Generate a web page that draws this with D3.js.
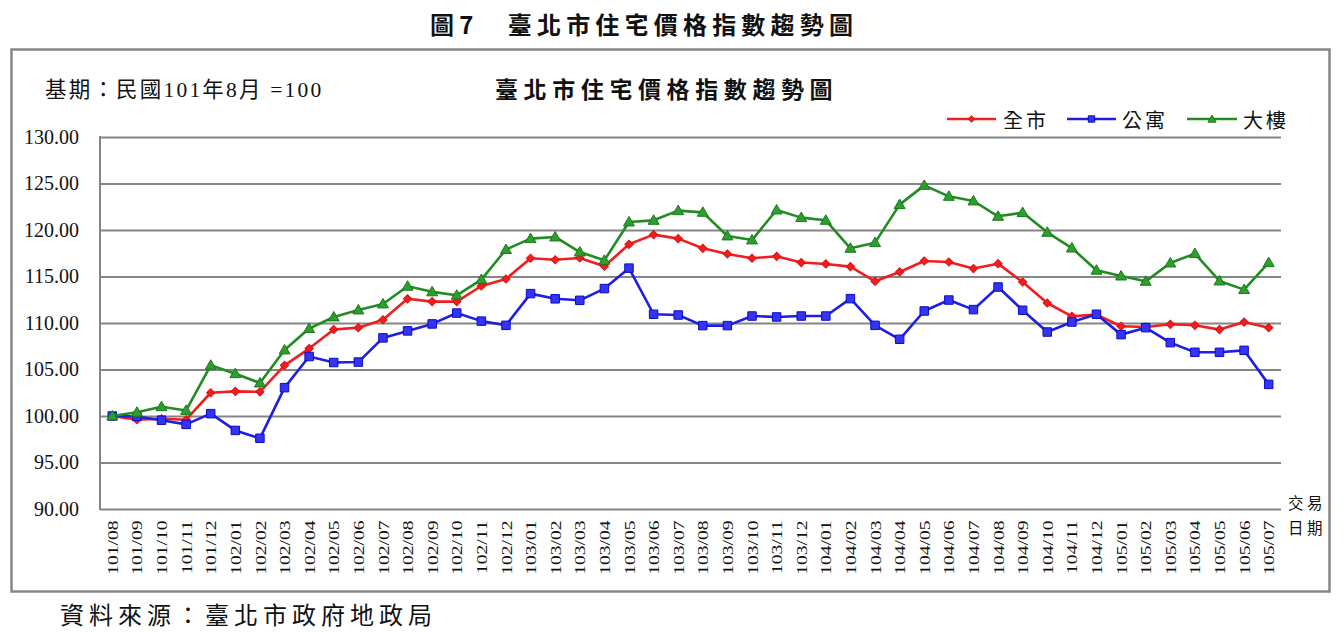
<!DOCTYPE html>
<html><head><meta charset="utf-8">
<script src="https://cdn.jsdelivr.net/npm/d3@7"></script>
<style>
html,body{margin:0;padding:0;background:#fff;}
svg{display:block;}
</style>
</head><body>
<svg id="chart" width="1344" height="632"></svg>
<script>
const categories = ["101/08","101/09","101/10","101/11","101/12",
 "102/01","102/02","102/03","102/04","102/05","102/06","102/07","102/08","102/09","102/10","102/11","102/12",
 "103/01","103/02","103/03","103/04","103/05","103/06","103/07","103/08","103/09","103/10","103/11","103/12",
 "104/01","104/02","104/03","104/04","104/05","104/06","104/07","104/08","104/09","104/10","104/11","104/12",
 "105/01","105/02","105/03","105/04","105/05","105/06","105/07"];
const cityValues = [100.00,99.60,99.70,99.60,102.50,102.65,102.60,105.45,107.25,109.30,109.50,110.35,112.60,112.30,112.30,113.98,114.73,
 116.96,116.80,116.99,116.10,118.46,119.50,119.07,118.03,117.42,116.96,117.17,116.50,
 116.35,116.06,114.48,115.49,116.67,116.56,115.85,116.38,114.41,112.15,110.72,110.90,
 109.65,109.57,109.86,109.75,109.29,110.10,109.50];
const apartmentValues = [100.00,99.95,99.55,99.10,100.25,98.45,97.60,103.05,106.40,105.75,105.80,108.40,109.15,109.90,111.07,110.20,109.75,
 113.16,112.60,112.44,113.70,115.90,110.94,110.86,109.72,109.72,110.75,110.65,110.75,
 110.75,112.62,109.75,108.25,111.29,112.47,111.44,113.87,111.37,109.03,110.11,110.94,
 108.75,109.50,107.89,106.85,106.85,107.06,103.40];
const buildingValues = [100.00,100.40,101.00,100.60,105.45,104.55,103.55,107.10,109.40,110.65,111.40,112.05,113.95,113.35,112.98,114.67,117.90,
 119.07,119.25,117.63,116.74,120.86,121.04,122.08,121.90,119.36,118.93,122.15,121.33,
 121.04,118.03,118.64,122.73,124.80,123.62,123.12,121.47,121.87,119.75,118.06,115.67,
 115.05,114.48,116.45,117.46,114.52,113.59,116.49];
const seriesNames = ["全市","公寓","大樓"];
const yTicks = [90,95,100,105,110,115,120,125,130];

(function(){
const svg = d3.select("#chart");
const serif = "'Liberation Serif','Noto Sans CJK TC',serif";
const cjk = "'Noto Sans CJK TC','Liberation Serif',sans-serif";
const gridColor = "#858585";

svg.append("rect").attr("width",1344).attr("height",632).attr("fill","#fff");

// top caption
svg.append("text").attr("x",430).attr("y",23)
  .attr("dominant-baseline","central").attr("font-family",cjk).attr("font-weight",700)
  .attr("font-size",24).attr("letter-spacing",5.2).attr("fill","#111")
  .text("圖7　臺北市住宅價格指數趨勢圖");

// outer frame
svg.append("rect").attr("x",11.5).attr("y",49.5).attr("width",1318).attr("height",542)
  .attr("fill","none").attr("stroke","#868686").attr("stroke-width",2.5);

// inner title
svg.append("text").attr("x",495).attr("y",88)
  .attr("dominant-baseline","central").attr("font-family",cjk).attr("font-weight",700)
  .attr("font-size",23).attr("letter-spacing",5.6).attr("fill","#111")
  .text("臺北市住宅價格指數趨勢圖");

// base period note
svg.append("text").attr("x",45).attr("y",90).attr("dominant-baseline","central")
  .attr("font-family",serif).attr("font-size",21.5).attr("letter-spacing",2.2).attr("fill","#111")
  .text("基期：民國101年8月 =100");

// source
svg.append("text").attr("x",60).attr("y",613).attr("dominant-baseline","central")
  .attr("font-family",cjk).attr("font-size",24).attr("letter-spacing",5).attr("fill","#111")
  .text("資料來源：臺北市政府地政局");

const pL = 100, pR = 1281, pT = 137, pB = 509;
const x = d3.scalePoint().domain(categories).range([pL,pR]).padding(0.5);
const y = d3.scaleLinear().domain([90,130]).range([pB,pT]);

// y axis with gridlines
const yAxis = d3.axisLeft(y).tickValues(yTicks).tickFormat(d3.format(".2f"))
  .tickSize(-(pR-pL)).tickPadding(21);
const gy = svg.append("g").attr("transform",`translate(${pL},0)`).call(yAxis);
gy.select(".domain").remove();
gy.selectAll(".tick line").attr("stroke",gridColor).attr("stroke-width",2);
gy.selectAll(".tick text").attr("font-family",serif).attr("font-size",20).attr("fill","#111");

// left axis line
svg.append("line").attr("x1",pL).attr("x2",pL).attr("y1",pT-1).attr("y2",pB+1)
  .attr("stroke",gridColor).attr("stroke-width",2);

// x axis
const xAxis = d3.axisBottom(x).tickSize(0).tickPadding(0);
const gx = svg.append("g").attr("transform",`translate(0,${pB})`).call(xAxis);
gx.select(".domain").remove();
gx.selectAll(".tick text")
  .attr("font-family",serif).attr("font-size",14.5).attr("fill","#111")
  .attr("text-anchor","end").attr("x",-8.5).attr("y",0).attr("dy","0.35em")
  .attr("transform","rotate(-90) scale(1.35,1)");

// axis title 交易日期
svg.append("text").attr("x",1288).attr("y",502).attr("dominant-baseline","central")
  .attr("font-family",cjk).attr("font-size",15.5).attr("letter-spacing",3.5).attr("fill","#111").text("交易");
svg.append("text").attr("x",1288).attr("y",527).attr("dominant-baseline","central")
  .attr("font-family",cjk).attr("font-size",15.5).attr("letter-spacing",3.5).attr("fill","#111").text("日期");

// series
const series = [
  {name:seriesNames[0], values:cityValues, color:"#f01e1e", mfill:"#f01e1e", mstroke:"#e01010", sym:"diamond"},
  {name:seriesNames[1], values:apartmentValues, color:"#1e1ee6", mfill:"#3535f0", mstroke:"#0a0ad0", sym:"square"},
  {name:seriesNames[2], values:buildingValues, color:"#228b22", mfill:"#2e9e2e", mstroke:"#1a7a1a", sym:"triangle"}
];
function symPath(sym, sc){
  if(sym==="diamond") return d3.symbol(d3.symbolSquare, 34*sc*sc)();
  if(sym==="square") return d3.symbol(d3.symbolSquare, 72*sc*sc)();
  return d3.symbol(d3.symbolTriangle, 52*sc*sc)();
}
function symTransform(sym, px, py){
  if(sym==="diamond") return `translate(${px},${py}) rotate(45)`;
  if(sym==="triangle") return `translate(${px},${py+0.8})`;
  return `translate(${px},${py})`;
}
const line = d3.line().x((d,i)=>x(categories[i])).y(d=>y(d));
series.forEach(s=>{
  const g = svg.append("g");
  g.append("path").datum(s.values).attr("d",line).attr("fill","none")
    .attr("stroke",s.color).attr("stroke-width",2.6).attr("stroke-linejoin","round");
  g.selectAll("path.m").data(s.values).join("path").attr("class","m")
    .attr("d",symPath(s.sym,1))
    .attr("transform",(d,i)=>symTransform(s.sym,x(categories[i]),y(d)))
    .attr("fill",s.mfill).attr("stroke",s.mstroke).attr("stroke-width",1);
});

// legend
const legendItems = [
  {x1:947,x2:996,tx:1003},
  {x1:1067,x2:1116,tx:1122},
  {x1:1187,x2:1237,tx:1243}
];
const ly = 119;
series.forEach((s,i)=>{
  const L = legendItems[i];
  svg.append("line").attr("x1",L.x1).attr("x2",L.x2).attr("y1",ly).attr("y2",ly)
    .attr("stroke",s.color).attr("stroke-width",2.6);
  svg.append("path").attr("d",symPath(s.sym,0.75))
    .attr("transform",symTransform(s.sym,(L.x1+L.x2)/2,ly))
    .attr("fill",s.mfill).attr("stroke",s.mstroke).attr("stroke-width",1);
  svg.append("text").attr("x",L.tx).attr("y",ly).attr("dominant-baseline","central")
    .attr("font-family",cjk).attr("font-size",20).attr("letter-spacing",3).attr("fill","#111")
    .text(s.name);
});
})();
</script>
</body></html>
